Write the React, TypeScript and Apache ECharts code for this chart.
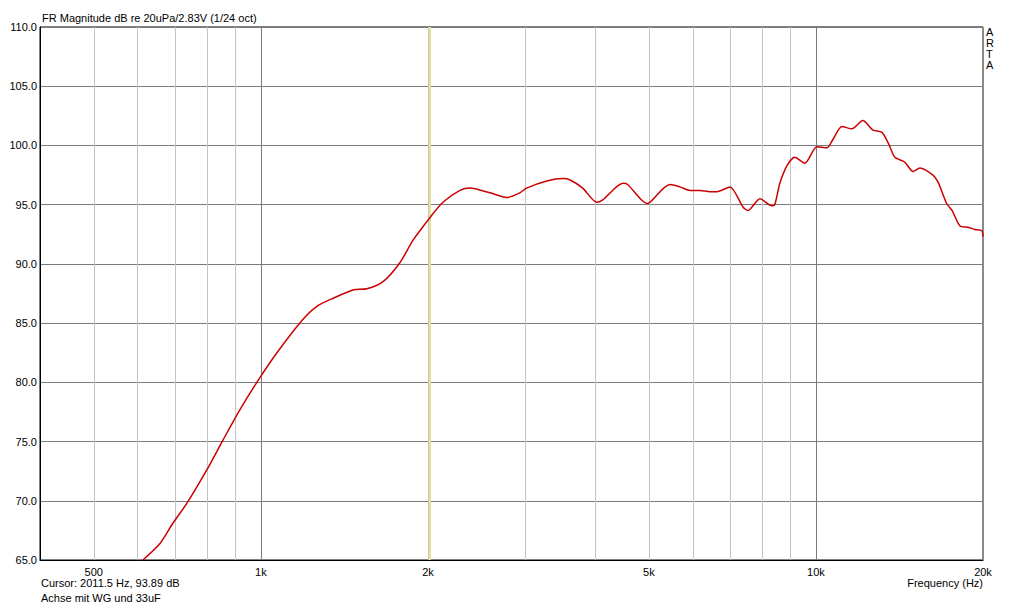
import React, { useEffect, useRef } from "react";
import * as echarts from "echarts";

const freqHz = [
  613, 658, 694, 736, 799, 854, 917, 996, 1069, 1190, 1260, 1350, 1465, 1552, 1660, 1780, 1880,
  2016, 2128, 2284, 2380, 2586, 2775, 2929, 3010, 3275, 3500, 3600, 3800, 4030, 4130, 4490,
  4580, 4960, 5020, 5460, 5690, 5930, 6180, 6440, 6630, 7000, 7390, 7540, 7930, 8330, 8430,
  8610, 8870, 9160, 9550, 10040, 10470, 10730, 11140, 11610, 12150, 12670, 13150, 13500,
  13880, 14450, 14960, 15390, 16250, 16600, 17200, 17600, 18180, 18800, 19340, 19900, 20000,
];
const magDb = [
  65.0, 66.4, 68.1, 69.8, 72.6, 75.1, 77.7, 80.4, 82.5, 85.3, 86.4, 87.1, 87.8, 87.9, 88.5, 90.1, 92.0,
  93.9, 95.2, 96.2, 96.4, 96.0, 95.6, 96.0, 96.4, 97.0, 97.2, 97.1, 96.4, 95.2, 95.4, 96.8,
  96.7, 95.1, 95.2, 96.7, 96.5, 96.2, 96.2, 96.1, 96.1, 96.5, 94.8, 94.5, 95.5, 94.9, 95.0,
  96.8, 98.3, 99.0, 98.5, 99.9, 99.8, 100.5, 101.6, 101.4, 102.1, 101.3, 101.1, 100.2,
  99.0, 98.6, 97.8, 98.1, 97.5, 96.9, 95.1, 94.5, 93.2, 93.1, 92.9, 92.8, 92.3,
];

const minorGridHz = [500, 600, 700, 800, 900, 2000, 3000, 4000, 5000, 6000, 7000, 8000, 9000];
const majorGridHz = [1000, 10000];
const labelTicksHz = [500, 1000, 2000, 5000, 10000, 20000];
const cursorHz = 2011.5;

const FONT = "'Liberation Sans', Arial, sans-serif";

function fmtHz(v: number) {
  return v >= 1000 ? v / 1000 + "k" : String(v);
}

export default function App() {
  const ref = useRef<HTMLDivElement>(null);
  useEffect(() => {
    if (!ref.current) return;
    const chart = echarts.init(ref.current, null, { renderer: "svg" });
    const data = freqHz.map((f, i) => [f, magDb[i]]);

    const gridLines: any[] = [];
    minorGridHz.forEach((v) =>
      gridLines.push({
        xAxis: v,
        lineStyle: { color: "#c4c4c4", width: 1, type: "solid" },
        label: labelTicksHz.includes(v)
          ? { show: true, position: "start", formatter: fmtHz(v), color: "#000", fontSize: 11, fontFamily: FONT, distance: 6 }
          : { show: false },
      })
    );
    majorGridHz.forEach((v) =>
      gridLines.push({
        xAxis: v,
        lineStyle: { color: "#7a7a7a", width: 1, type: "solid" },
        label: { show: true, position: "start", formatter: fmtHz(v), color: "#000", fontSize: 11, fontFamily: FONT, distance: 6 },
      })
    );
    gridLines.push({
      xAxis: 20000,
      lineStyle: { color: "#8a8a8a", width: 2, type: "solid" },
      label: { show: true, position: "start", formatter: fmtHz(20000), color: "#000", fontSize: 11, fontFamily: FONT, distance: 6 },
    });
    gridLines.push({
      xAxis: cursorHz,
      lineStyle: { color: "#e8e294", width: 2, type: "solid" },
      label: { show: false },
    });

    chart.setOption({
      animation: false,
      backgroundColor: "#ffffff",
      grid: { left: 40, right: 41, top: 27, bottom: 46, show: true, borderColor: "#000", borderWidth: 1, containLabel: false },
      xAxis: {
        type: "log",
        logBase: 10,
        min: 400,
        max: 20000,
        axisLine: { show: true, lineStyle: { color: "#000", width: 1 } },
        axisTick: { show: false },
        axisLabel: { show: false },
        splitLine: { show: false },
        minorSplitLine: { show: false },
      },
      yAxis: {
        type: "value",
        min: 65,
        max: 110,
        interval: 5,
        axisLine: { show: true, lineStyle: { color: "#000", width: 1 } },
        axisTick: { show: false },
        axisLabel: { color: "#000", fontSize: 11, fontFamily: FONT, margin: 3, formatter: (v: number) => v.toFixed(1) },
        splitLine: { show: true, lineStyle: { color: "#7a7a7a", width: 1 } },
      },
      graphic: [
        { type: "text", left: 42, top: 12, style: { text: "FR Magnitude dB re 20uPa/2.83V (1/24 oct)", fill: "#000", font: `11px ${FONT}` } },
        { type: "text", left: 986, top: 26, style: { text: "A\nR\nT\nA", fill: "#000", font: `11px ${FONT}`, lineHeight: 11 } },
        { type: "text", left: 41, top: 577, style: { text: "Cursor: 2011.5 Hz, 93.89 dB", fill: "#000", font: `11px ${FONT}` } },
        { type: "text", left: 41, top: 592, style: { text: "Achse mit WG und 33uF", fill: "#000", font: `11px ${FONT}` } },
        { type: "text", right: 1024 - 983, top: 577, style: { text: "Frequency (Hz)", fill: "#000", font: `11px ${FONT}`, textAlign: "right" } },
      ],
      series: [
        {
          type: "line",
          data,
          smooth: 0.25,
          showSymbol: false,
          symbol: "none",
          clip: true,
          z: 5,
          lineStyle: { color: "#cc0000", width: 1.5 },
          markLine: {
            silent: true,
            symbol: ["none", "none"],
            z: 1,
            data: gridLines,
          },
        },
      ],
    });
    return () => chart.dispose();
  }, []);
  return <div ref={ref} style={{ position: "absolute", left: 0, top: 0, width: 1024, height: 606 }} />;
}
